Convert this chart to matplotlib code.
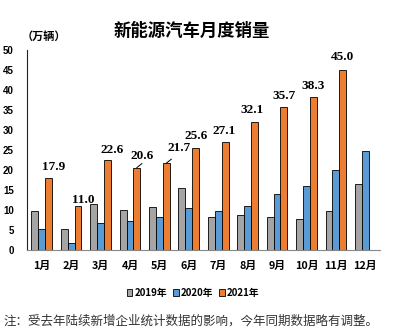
import matplotlib
matplotlib.use("Agg")
import matplotlib.pyplot as plt
import numpy as np

months = ["1月", "2月", "3月", "4月", "5月", "6月", "7月", "8月", "9月", "10月", "11月", "12月"]
sales_2019 = [9.8, 5.3, 11.6, 9.9, 10.8, 15.6, 8.2, 8.7, 8.3, 7.8, 9.7, 16.5]
sales_2020 = [5.3, 1.7, 6.7, 7.3, 8.2, 10.4, 9.8, 10.9, 14.1, 16.1, 20.0, 24.8]
sales_2021 = [17.9, 11.0, 22.6, 20.6, 21.7, 25.6, 27.1, 32.1, 35.7, 38.3, 45.0]
series_names = ["2019年", "2020年", "2021年"]
y_ticks = [0, 5, 10, 15, 20, 25, 30, 35, 40, 45, 50]

# label offsets (dx in category units, dy in value units) for the 2021 values
label_dx = [0.17, 0.17, 0.15, 0.17, 0.45, 0.0, -0.03, -0.1, 0.0, 0.0, 0.0]
label_dy = [2.8, 1.6, 2.3, 3.0, 3.7, 2.9, 2.6, 2.9, 2.9, 2.8, 3.3]
leader = [False, False, False, True, True, False, False, False, False, False, False]

colors = ["#A5A5A5", "#5B9BD5", "#ED7D31"]
cjk = ["Noto Sans CJK SC", "DejaVu Sans"]

fig = plt.figure(figsize=(4.08, 3.31), dpi=100)
ax = fig.add_axes([27 / 408, 1 - 250 / 331, 353 / 408, 200 / 331])

x = np.arange(len(months))
w = 0.235
ax.bar(x - w, sales_2019, width=w, color=colors[0], edgecolor="black", linewidth=0.6, label=series_names[0])
ax.bar(x, sales_2020, width=w, color=colors[1], edgecolor="black", linewidth=0.6, label=series_names[1])
x21 = np.arange(len(sales_2021))
ax.bar(x21 + w, sales_2021, width=w, color=colors[2], edgecolor="black", linewidth=0.6, label=series_names[2])

for i, v in enumerate(sales_2021):
    bx = i + w
    tx = bx + label_dx[i]
    ty = v + label_dy[i]
    ax.text(tx, ty, f"{v:.1f}", ha="center", va="center", fontsize=9.5,
            fontweight="bold", family="Liberation Serif", color="black")
    if leader[i]:
        ax.plot([bx, bx + 0.17], [v, v + 1.0], color="black", lw=0.7)

ax.set_xlim(-0.5, 11.5)
ax.set_ylim(0, 50)
ax.set_yticks(y_ticks)
ax.set_yticklabels([str(t) for t in y_ticks], fontsize=7, fontweight="bold", family="Liberation Sans")
ax.set_xticks(x)
ax.set_xticklabels(months, fontsize=7.8, fontweight="bold", family=cjk)
ax.tick_params(axis="both", length=0)
ax.tick_params(axis="y", pad=9.5)
ax.tick_params(axis="x", pad=8)
for s in ["top", "right"]:
    ax.spines[s].set_visible(False)
ax.spines["left"].set_color("#222222")
ax.spines["bottom"].set_color("#888888")
ax.spines["left"].set_linewidth(0.8)
ax.spines["bottom"].set_linewidth(0.8)

fig.text(192 / 408, 1 - 31 / 331, "新能源汽车月度销量", ha="center", va="center",
         fontsize=12.5, fontweight="bold", family=cjk)
fig.text(22 / 408, 1 - 36 / 331, "（万辆）", ha="left", va="center",
         fontsize=8, fontweight="bold", family=cjk)

leg = fig.legend(loc="center", bbox_to_anchor=(193 / 408, 1 - 293 / 331), ncol=3, frameon=False,
                 prop={"family": cjk, "weight": "bold", "size": 7},
                 handlelength=0.6, handleheight=0.6, handletextpad=0.2, columnspacing=0.6)

fig.text(3 / 408, 1 - 321 / 331, "注：受去年陆续新增企业统计数据的影响，今年同期数据略有调整。",
         ha="left", va="center", fontsize=9, family=cjk, color="#333333")

fig.savefig("out.png", dpi=100, facecolor="white")
